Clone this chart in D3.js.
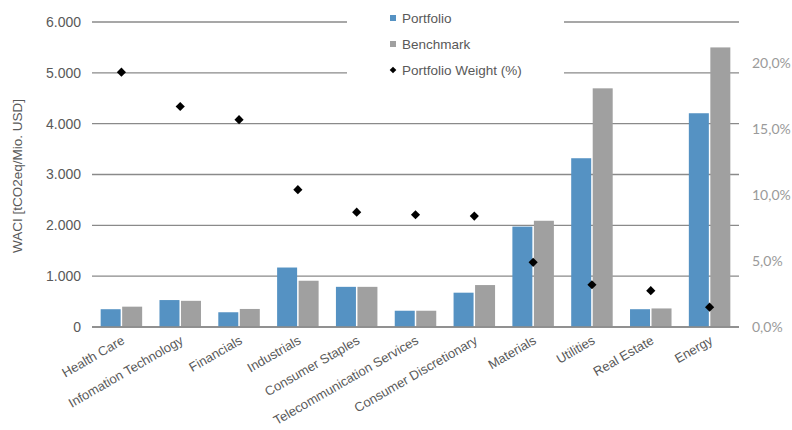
<!DOCTYPE html>
<html>
<head>
<meta charset="utf-8">
<script src="https://cdn.jsdelivr.net/npm/d3@7"></script>
<style>
  body { margin: 0; background: #fff; }
  text { font-family: "Liberation Sans", Arial, sans-serif; }
</style>
</head>
<body>
<script>
// Sektoren und Werte
const sectors = ["Health Care", "Infomation Technology", "Financials", "Industrials",
  "Consumer Staples", "Telecommunication Services", "Consumer Discretionary",
  "Materials", "Utilities", "Real Estate", "Energy"];
const portfolio = [350, 530, 290, 1170, 790, 320, 675, 1975, 3320, 350, 4205];
const benchmark = [400, 515, 355, 910, 790, 320, 825, 2090, 4695, 365, 5500];
const weight = [19.3, 16.7, 15.7, 10.4, 8.7, 8.5, 8.4, 4.9, 3.2, 2.75, 1.5];
const leftTicks = [0, 1000, 2000, 3000, 4000, 5000, 6000];
const rightTicks = [0, 5, 10, 15, 20];
const legendLabels = ["Portfolio", "Benchmark", "Portfolio Weight (%)"];

const width = 792, height = 430;
const margin = { top: 22, right: 53, bottom: 103, left: 92 };

const svg = d3.select("body").append("svg")
  .attr("width", width)
  .attr("height", height);

const x = d3.scaleBand().domain(sectors).range([margin.left, width - margin.right]);
const y = d3.scaleLinear().domain([0, 6000]).range([height - margin.bottom, margin.top]);
const y2 = d3.scaleLinear().domain([0, 23.1]).range([height - margin.bottom, margin.top]);

const fmtL = d3.formatLocale({ decimal: ",", thousands: ".", grouping: [3], currency: ["", "€"] });
const fmtLeft = fmtL.format(",.0f");

// Gitterlinien
svg.append("g")
  .selectAll("line")
  .data(leftTicks)
  .join("line")
  .attr("x1", margin.left)
  .attr("x2", width - margin.right)
  .attr("y1", d => y(d))
  .attr("y2", d => y(d))
  .attr("stroke", "#8a8a8a")
  .attr("stroke-width", 1.3);

// Legende verdeckt die Linien
svg.append("rect")
  .attr("x", 347).attr("y", 8)
  .attr("width", 217).attr("height", 76)
  .attr("fill", "#fff");

// Balken
const barW = 20, gap = 1.5;
const bars = svg.append("g");
bars.selectAll(".p")
  .data(portfolio)
  .join("rect")
  .attr("x", (d, i) => x(sectors[i]) + x.bandwidth() / 2 - barW - gap / 2)
  .attr("y", d => y(d))
  .attr("width", barW)
  .attr("height", d => y(0) - y(d))
  .attr("fill", "#5592c3");
bars.selectAll(".b")
  .data(benchmark)
  .join("rect")
  .attr("x", (d, i) => x(sectors[i]) + x.bandwidth() / 2 + gap / 2)
  .attr("y", d => y(d))
  .attr("width", barW)
  .attr("height", d => y(0) - y(d))
  .attr("fill", "#a0a0a0");

// Nulllinie
svg.append("line")
  .attr("x1", margin.left).attr("x2", width - margin.right)
  .attr("y1", y(0)).attr("y2", y(0))
  .attr("stroke", "#8a8a8a").attr("stroke-width", 1.3);

// Gewichte (Rauten)
svg.append("g")
  .selectAll("path")
  .data(weight)
  .join("path")
  .attr("transform", (d, i) => `translate(${x(sectors[i]) + x.bandwidth() / 2},${y2(d)}) rotate(45)`)
  .attr("d", d3.symbol().type(d3.symbolSquare).size(42))
  .attr("fill", "#000");

// linke Achse
svg.append("g")
  .selectAll("text")
  .data(leftTicks)
  .join("text")
  .attr("x", 81)
  .attr("y", d => y(d))
  .attr("dy", "0.35em")
  .attr("text-anchor", "end")
  .style("font-size", "14px")
  .style("fill", "#595959")
  .text(d => fmtLeft(d));

// rechte Achse
svg.append("g")
  .selectAll("text")
  .data(rightTicks)
  .join("text")
  .attr("x", 752)
  .attr("y", d => y2(d))
  .attr("dy", "0.35em")
  .style("font-family", "Lato, sans-serif")
  .style("font-size", "14px")
  .style("fill", "#9a9a9a")
  .text(d => d.toFixed(1).replace(".", ",") + "%");

// Achsentitel
svg.append("text")
  .attr("transform", "translate(22,176) rotate(-90)")
  .attr("text-anchor", "middle")
  .style("font-size", "13.5px")
  .style("fill", "#595959")
  .text("WACI [tCO2eq/Mio. USD]");

// Kategorien
svg.append("g")
  .selectAll("text")
  .data(sectors)
  .join("text")
  .attr("transform", d => `translate(${x(d) + x.bandwidth() / 2 + 4},${y(0) + 16}) rotate(-30)`)
  .attr("text-anchor", "end")
  .style("font-size", "13px")
  .style("fill", "#595959")
  .text(d => d);

// Legende
const leg = svg.append("g").attr("transform", "translate(393,18)");
legendLabels.forEach((lab, i) => {
  const g = leg.append("g").attr("transform", `translate(0,${i * 26})`);
  if (i < 2) {
    g.append("rect").attr("x", -3).attr("y", -3).attr("width", 6).attr("height", 6)
      .attr("fill", i === 0 ? "#5592c3" : "#a0a0a0");
  } else {
    g.append("path").attr("transform", "rotate(45)")
      .attr("d", d3.symbol().type(d3.symbolSquare).size(22)).attr("fill", "#000");
  }
  g.append("text").attr("x", 9).attr("dy", "0.35em")
    .style("font-size", "13.5px").style("fill", "#595959").text(lab);
});
</script>
</body>
</html>
